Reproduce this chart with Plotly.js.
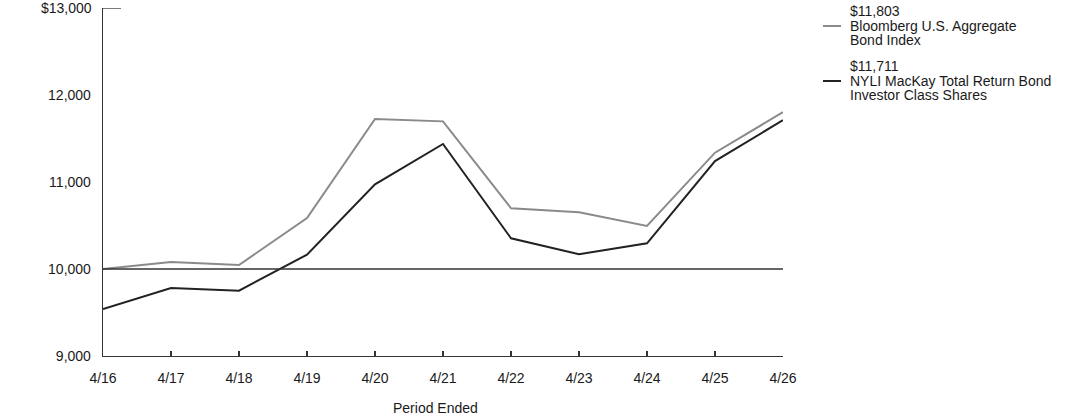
<!DOCTYPE html>
<html>
<head>
<meta charset="utf-8">
<script src="https://cdn.plot.ly/plotly-3.0.1.min.js"></script>
<style>html,body{margin:0;padding:0;background:#fff;}#chart{width:1092px;height:417px;}</style>
</head>
<body>
<div id="chart"></div>
<script>
const periods = ["4/16","4/17","4/18","4/19","4/20","4/21","4/22","4/23","4/24","4/25","4/26"];
const bloomberg = [10000,10080,10046,10586,11724,11697,10698,10652,10494,11337,11803];
const nyli = [9540,9782,9751,10165,10973,11437,10353,10169,10295,11241,11711];
const yTickVals = [9000,10000,11000,12000,13000];
const yTickText = ["9,000","10,000","11,000","12,000","$13,000"];
const seriesNames = [["Bloomberg U.S. Aggregate","Bond Index"],["NYLI MacKay Total Return Bond","Investor Class Shares"]];
const endLabels = ["$11,803","$11,711"];
const colors = ["#8a8a8a","#222222"];

const idx = periods.map((_, i) => i);
const font = {family: "Liberation Sans, Arial, sans-serif", size: 14, color: "#1a1a1a"};

const traces = [
  {x: idx, y: bloomberg, type: "scatter", mode: "lines", line: {color: colors[0], width: 2}, hoverinfo: "skip", showlegend: false},
  {x: idx, y: nyli, type: "scatter", mode: "lines", line: {color: colors[1], width: 2}, hoverinfo: "skip", showlegend: false}
];

const legendY = [26, 81]; // pixel rows of sample lines
const H = 417, mt = 8, mb = 61, ph = H - mt - mb;
const toPaperY = py => 1 - (py - mt) / ph;
const W = 1092, ml = 103, mr = 309, pw = W - ml - mr;
const toPaperX = px => (px - ml) / pw;

const nTop = yTickVals.length - 1;
const shapes = [
  {type: "line", xref: "paper", yref: "y", x0: 0, x1: 1, y0: 10000, y1: 10000, line: {color: "#333", width: 1.3}},
  {type: "line", xref: "paper", yref: "y", x0: 0, x1: toPaperX(121), y0: yTickVals[nTop], y1: yTickVals[nTop], line: {color: "#333", width: 1.3}}
];
const annotations = [
  {xref: "paper", yref: "paper", x: toPaperX(435), y: toPaperY(408), text: "Period Ended", showarrow: false, font: font, xanchor: "center", yanchor: "middle"},
  {xref: "paper", yref: "y", x: toPaperX(94), y: yTickVals[nTop], text: yTickText[nTop], showarrow: false, font: font, xanchor: "right", yanchor: "middle", xshift: 0}
];
seriesNames.forEach((n, i) => {
  shapes.push({type: "line", xref: "paper", yref: "paper", x0: toPaperX(823), x1: toPaperX(841), y0: toPaperY(legendY[i]), y1: toPaperY(legendY[i]), line: {color: colors[i], width: 2}});
  const lines = [endLabels[i]].concat(n);
  lines.forEach((t, k) => {
    annotations.push({xref: "paper", yref: "paper", x: toPaperX(848), y: toPaperY(legendY[i] - 15 + k * 14.5), text: t, showarrow: false, align: "left", xanchor: "left", yanchor: "middle", font: font});
  });
});

const layout = {
  width: W, height: H,
  margin: {l: ml, r: mr, t: mt, b: mb, pad: 0},
  paper_bgcolor: "#fff", plot_bgcolor: "#fff",
  font: font,
  showlegend: false,
  xaxis: {
    range: [0, 10], tickvals: idx, ticktext: periods,
    ticks: "inside", ticklen: 5, tickcolor: "#333", tickwidth: 1.3,
    showline: true, linecolor: "#333", linewidth: 1.3,
    showgrid: false, zeroline: false, fixedrange: true,
    ticklabelstandoff: 9, tickfont: font
  },
  yaxis: {
    range: [9000, 13000], tickvals: yTickVals.slice(0, nTop), ticktext: yTickText.slice(0, nTop),
    ticks: "", showline: true, linecolor: "#333", linewidth: 1.3,
    showgrid: false, zeroline: false, fixedrange: true,
    ticklabelstandoff: 8, tickfont: font
  },
  shapes: shapes,
  annotations: annotations
};

Plotly.newPlot("chart", traces, layout, {displayModeBar: false, staticPlot: true});
</script>
</body>
</html>
